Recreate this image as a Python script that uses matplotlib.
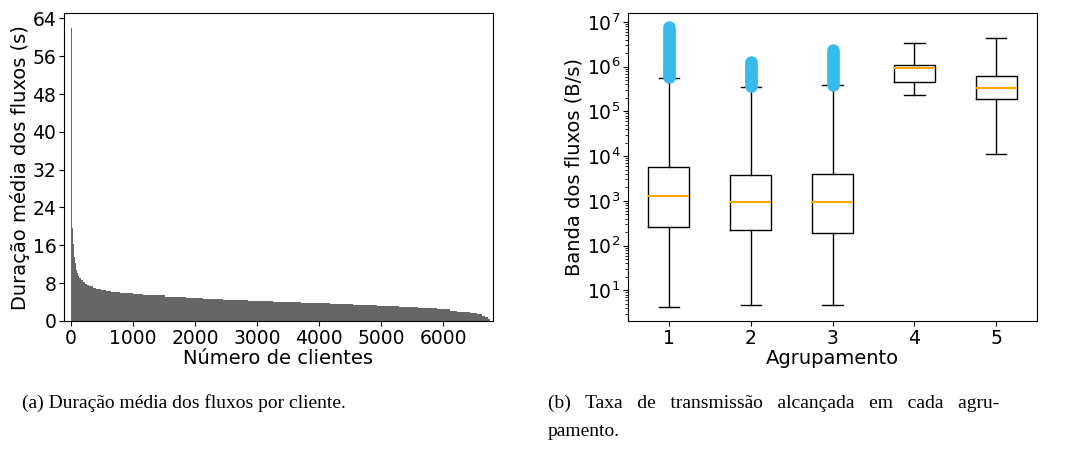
import matplotlib
matplotlib.use('Agg')
import matplotlib.pyplot as plt
import numpy as np

step_inicio = [0, 14, 30, 46, 62, 78, 94, 110, 130, 160, 190, 225, 260, 300, 350,
               410, 480, 560, 650, 790, 1000, 1170, 1520, 1850, 2135, 2457, 2850,
               3263, 3710, 4170, 4543, 4930, 5291, 5603, 5899, 6113, 6221, 6328,
               6436, 6544, 6624, 6678, 6731]
step_fim = 6758
duracao = [62.0, 19.6, 16.2, 13.5, 12.2, 10.8, 10.1, 9.5, 9.0, 8.6, 8.2, 7.9, 7.6,
           7.3, 7.0, 6.7, 6.45, 6.25, 6.1, 5.9, 5.65, 5.4, 5.15, 4.85, 4.6, 4.4, 4.15,
           3.95, 3.75, 3.55, 3.37, 3.16, 2.9, 2.67, 2.46, 2.2, 2.0, 1.8, 1.6, 1.4,
           1.1, 0.75, 0.35]

# (b) bandwidth per cluster (B/s)
grupos = [1, 2, 3, 4, 5]
q1 = [263, 221, 193, 4.63e5, 1.89e5]
mediana = [1.27e3, 933, 919, 9.2e5, 3.28e5]
q3 = [5.7e3, 3.76e3, 4.03e3, 1.11e6, 6.18e5]
whis_baixo = [4.25, 4.79, 4.79, 2.37e5, 1.13e4]
whis_alto = [5.5e5, 3.58e5, 3.97e5, 3.39e6, 4.32e6]
outliers = [
    [5.8e5, 6.5e5, 7.3e5, 8.2e5, 9.2e5, 1.03e6, 1.16e6, 1.3e6, 1.46e6, 1.64e6,
     1.84e6, 2.06e6, 2.3e6, 2.6e6, 2.9e6, 3.25e6, 3.65e6, 4.1e6, 4.6e6, 5.2e6,
     5.8e6, 6.5e6, 7.6e6],
    [3.75e5, 4.2e5, 4.7e5, 5.3e5, 5.9e5, 6.6e5, 7.4e5, 8.3e5, 9.3e5, 1.04e6,
     1.16e6, 1.28e6],
    [3.95e5, 4.4e5, 5e5, 5.6e5, 6.3e5, 7.1e5, 8e5, 9e5, 1.01e6, 1.13e6, 1.27e6,
     1.43e6, 1.6e6, 1.8e6, 2.05e6, 2.37e6],
    [],
    [],
]

fig = plt.figure(figsize=(10.67, 4.54), dpi=100)

ax1 = fig.add_axes([0.060, 0.293, 0.402, 0.678])
edges = step_inicio + [step_fim]
ax1.stairs(duracao, edges, fill=True, color='#666666', linewidth=0)
ax1.set_xlim(-110, 6805)
ax1.set_ylim(0, 65.1)
ax1.set_yticks(np.arange(0, 65, 8))
ax1.set_xticks(np.arange(0, 6001, 1000))
ax1.tick_params(labelsize=13.5, pad=2)
ax1.set_xlabel('Número de clientes', fontsize=14, labelpad=1)
ax1.set_ylabel('Duração média dos fluxos (s)', fontsize=14, labelpad=2)

ax2 = fig.add_axes([0.5886, 0.293, 0.3833, 0.678])
stats = []
for i in range(len(grupos)):
    stats.append({'label': str(grupos[i]), 'q1': q1[i], 'med': mediana[i],
                  'q3': q3[i], 'whislo': whis_baixo[i], 'whishi': whis_alto[i],
                  'fliers': outliers[i]})
ax2.bxp(stats, positions=grupos, widths=0.5,
        medianprops=dict(color='#ffa500', linewidth=1.5),
        flierprops=dict(marker='o', markersize=8, markerfacecolor='#35bbed',
                        markeredgecolor='#35bbed'))
ax2.set_yscale('log')
ax2.tick_params(labelsize=13.5, pad=2)
ax2.set_xlabel('Agrupamento', fontsize=14, labelpad=1)
ax2.set_ylabel('Banda dos fluxos (B/s)', fontsize=14, labelpad=2)

cap_font = dict(family='Liberation Serif', fontsize=14)
fig.text(22 / 1067, 1 - 403 / 454, '(a) Duração média dos fluxos por cliente.',
         va='center', ha='left', **cap_font)
linha_b = '   '.join(['(b)', 'Taxa', 'de', 'transmissão', 'alcançada', 'em', 'cada', 'agru-'])
fig.text(548 / 1067, 1 - 403 / 454, linha_b, va='center', ha='left', **cap_font)
fig.text(548 / 1067, 1 - 432 / 454, 'pamento.', va='center', ha='left', **cap_font)

fig.savefig('out.png', dpi=100)
